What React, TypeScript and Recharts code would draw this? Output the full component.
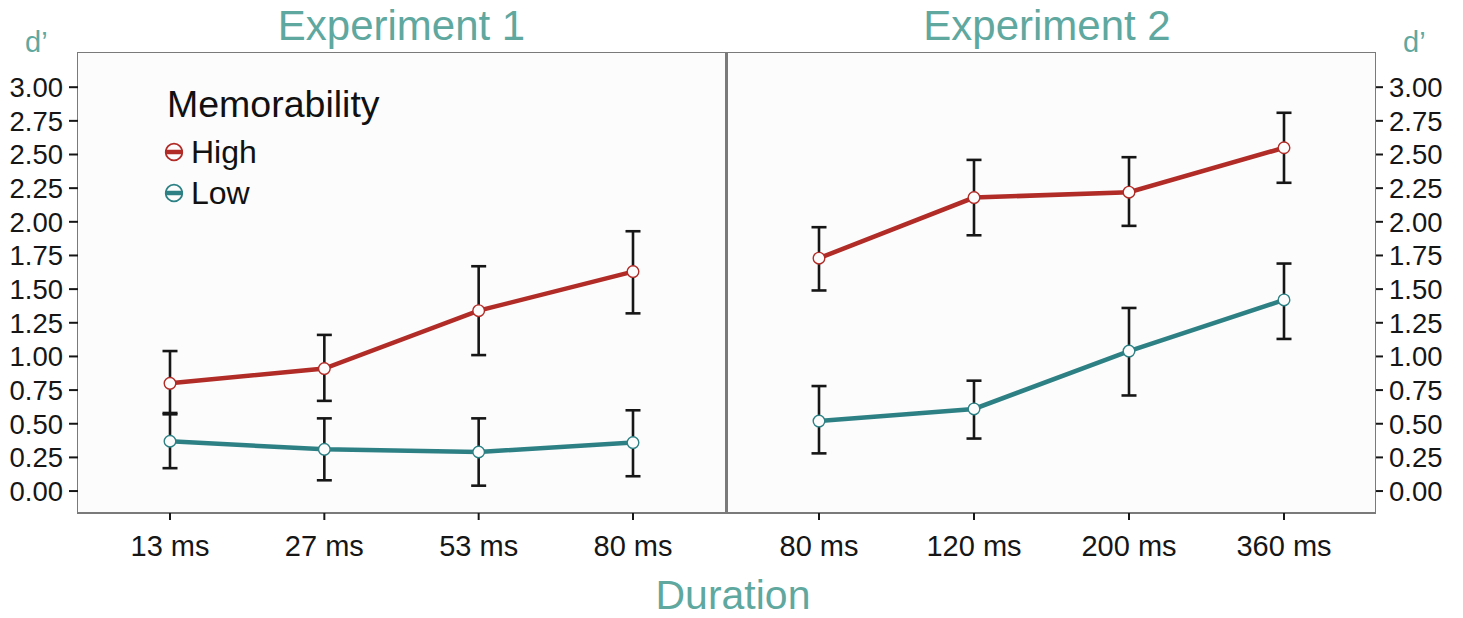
import React from 'react';
import { ErrorBar, Line, LineChart, XAxis, YAxis } from 'recharts';

const exp1Durations = ['13 ms', '27 ms', '53 ms', '80 ms'];
const exp1High = [0.8, 0.91, 1.34, 1.63];
const exp1HighLower = [0.57, 0.67, 1.01, 1.32];
const exp1HighUpper = [1.04, 1.16, 1.67, 1.93];
const exp1Low = [0.37, 0.31, 0.29, 0.36];
const exp1LowLower = [0.17, 0.08, 0.04, 0.11];
const exp1LowUpper = [0.58, 0.54, 0.54, 0.6];

const exp2Durations = ['80 ms', '120 ms', '200 ms', '360 ms'];
const exp2High = [1.73, 2.18, 2.22, 2.55];
const exp2HighLower = [1.49, 1.9, 1.97, 2.29];
const exp2HighUpper = [1.96, 2.46, 2.48, 2.81];
const exp2Low = [0.52, 0.61, 1.04, 1.42];
const exp2LowLower = [0.28, 0.39, 0.71, 1.13];
const exp2LowUpper = [0.78, 0.82, 1.36, 1.69];

const yTicks = [0, 0.25, 0.5, 0.75, 1, 1.25, 1.5, 1.75, 2, 2.25, 2.5, 2.75, 3];

const RED = '#b12b27';
const TEAL = '#2d8185';
const TITLE = '#5fa8a0';
const INK = '#161616';
const PANEL_BG = '#fcfcfc';
const FONT = '"Liberation Sans", Arial, Helvetica, sans-serif';

const buildRows = (
  durations: string[],
  high: number[],
  highLower: number[],
  highUpper: number[],
  low: number[],
  lowLower: number[],
  lowUpper: number[],
) =>
  durations.map((duration, i) => ({
    duration,
    high: high[i],
    highErr: [high[i] - highLower[i], highUpper[i] - high[i]],
    low: low[i],
    lowErr: [low[i] - lowLower[i], lowUpper[i] - low[i]],
  }));

const exp1Rows = buildRows(exp1Durations, exp1High, exp1HighLower, exp1HighUpper, exp1Low, exp1LowLower, exp1LowUpper);
const exp2Rows = buildRows(exp2Durations, exp2High, exp2HighLower, exp2HighUpper, exp2Low, exp2LowLower, exp2LowUpper);

const xTickStyle = { fill: INK, fontSize: 29, fontFamily: FONT };
const yTickStyle = { fill: INK, fontSize: 27.5, fontFamily: FONT };

// curve + dots
const series = (key: string, color: string) => (
  <Line
    key={key}
    dataKey={key}
    stroke={color}
    strokeWidth={4.5}
    dot={{ r: 5.8, stroke: color, strokeWidth: 1.4, fill: PANEL_BG }}
    activeDot={false}
    isAnimationActive={false}
  />
);

// error bars drawn after the dots so the whiskers run through the circles
const whiskers = (key: string, errKey: string) => (
  <Line
    key={`${key}-err`}
    dataKey={key}
    stroke="none"
    dot={false}
    activeDot={false}
    legendType="none"
    isAnimationActive={false}
  >
    <ErrorBar dataKey={errKey} width={7.5} stroke={INK} strokeWidth={2.6} direction="y" />
  </Line>
);

const Panel = ({ rows, side }: { rows: typeof exp1Rows; side: 'left' | 'right' }) => (
  <LineChart
    width={side === 'left' ? 726 : 737}
    height={618}
    data={rows}
    margin={{ top: 53, right: 0, bottom: 55, left: 0 }}
  >
    <XAxis
      dataKey="duration"
      padding={side === 'left' ? { left: 92, right: 93 } : { left: 93, right: 92 }}
      interval={0}
      axisLine={false}
      tickLine={{ stroke: INK, strokeWidth: 2 }}
      tickSize={7}
      tickMargin={15}
      tick={xTickStyle}
      height={50}
    />
    <YAxis
      orientation={side}
      width={side === 'left' ? 78 : 87}
      domain={[-0.163, 3.254]}
      ticks={yTicks}
      type="number"
      interval={0}
      allowDataOverflow
      axisLine={false}
      tickLine={{ stroke: INK, strokeWidth: 2 }}
      tickSize={side === 'left' ? 9 : 7}
      tickMargin={6}
      tick={yTickStyle}
      tickFormatter={(v: number) => v.toFixed(2)}
    />
    {series('high', RED)}
    {series('low', TEAL)}
    {whiskers('high', 'highErr')}
    {whiskers('low', 'lowErr')}
  </LineChart>
);

const LegendKey = ({ y, color, label }: { y: number; color: string; label: string }) => (
  <g>
    <circle cx={174} cy={y} r={8.3} fill={PANEL_BG} stroke={color} strokeWidth={1.8} />
    <line x1={165} y1={y} x2={183} y2={y} stroke={color} strokeWidth={4.5} />
    <text x={191} y={y + 11} fontSize={32} fill="#111">
      {label}
    </text>
  </g>
);

export default function App() {
  return (
    <div style={{ position: 'absolute', left: 0, top: 0, width: 1463, height: 618, background: '#fff', fontFamily: FONT }}>
      <div
        style={{
          position: 'absolute',
          left: 77,
          top: 52,
          width: 1297,
          height: 459,
          background: PANEL_BG,
          border: '1.5px solid #7a7a7a',
          borderBottomWidth: 2.5,
        }}
      />
      <div style={{ position: 'absolute', left: 725, top: 53, width: 3, height: 460, background: '#7a7a7a' }} />
      <div style={{ position: 'absolute', left: 0, top: 0 }}>
        <Panel rows={exp1Rows} side="left" />
      </div>
      <div style={{ position: 'absolute', left: 726, top: 0 }}>
        <Panel rows={exp2Rows} side="right" />
      </div>
      <svg
        width={1463}
        height={618}
        style={{ position: 'absolute', left: 0, top: 0, pointerEvents: 'none', fontFamily: FONT }}
      >
        <text x={401.5} y={40} fontSize={42} fill={TITLE} textAnchor="middle">
          Experiment 1
        </text>
        <text x={1047} y={40} fontSize={42} fill={TITLE} textAnchor="middle">
          Experiment 2
        </text>
        <text x={25} y={52} fontSize={29} fill={TITLE}>
          d’
        </text>
        <text x={1403} y={52} fontSize={29} fill={TITLE}>
          d’
        </text>
        <text x={733} y={609} fontSize={41} fill={TITLE} textAnchor="middle">
          Duration
        </text>
        <text x={167} y={117} fontSize={37.5} fill="#111">
          Memorability
        </text>
        <LegendKey y={152} color={RED} label="High" />
        <LegendKey y={193} color={TEAL} label="Low" />
      </svg>
    </div>
  );
}
